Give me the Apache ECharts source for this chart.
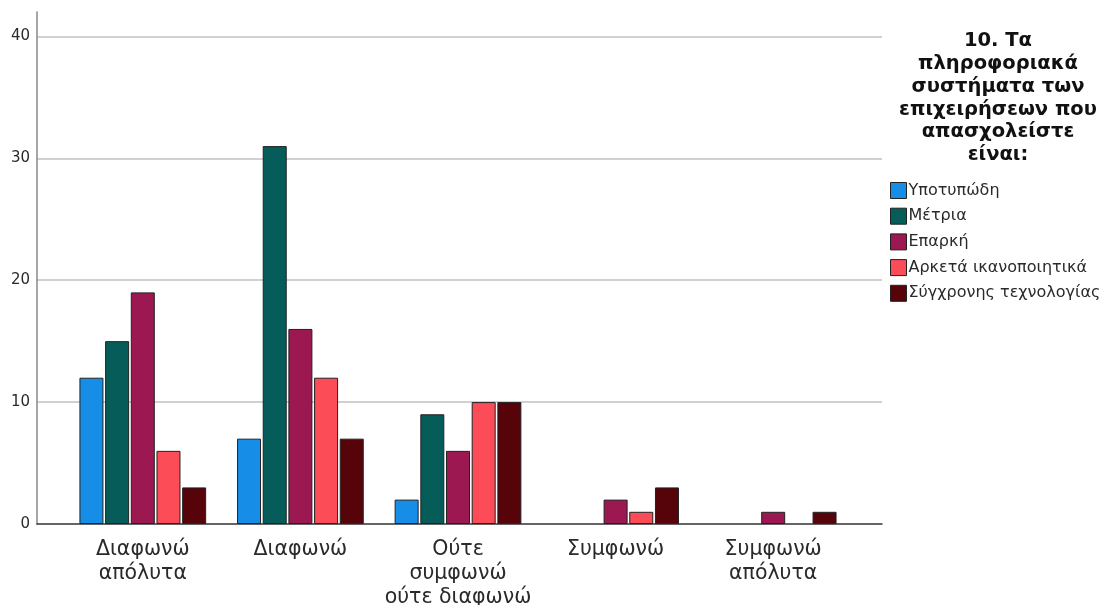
<!DOCTYPE html>
<html>
<head>
<meta charset="utf-8">
<script src="https://cdn.jsdelivr.net/npm/echarts@6/dist/echarts.min.js"></script>
<style>
  html, body { margin: 0; padding: 0; background: #fff; }
  #chart { width: 1107px; height: 605px; }
</style>
</head>
<body>
<div id="chart"></div>
<script>
// answer categories on the x axis
const categories = ['Διαφωνώ\nαπόλυτα', 'Διαφωνώ', 'Ούτε\nσυμφωνώ\nούτε διαφωνώ', 'Συμφωνώ', 'Συμφωνώ\nαπόλυτα'];
const seriesNames = ['Υποτυπώδη', 'Μέτρια', 'Επαρκή', 'Αρκετά ικανοποιητικά', 'Σύγχρονης τεχνολογίας'];
// counts per series (null = no bar)
const ypotypodi = [12, 7, 2, null, null];
const metria = [15, 31, 9, null, null];
const eparki = [19, 16, 6, 2, 1];
const arketa = [6, 12, 10, 1, null];
const sygxronis = [3, 7, 10, 3, 1];
const yTicks = [0, 10, 20, 30, 40];
const legendTitle = '10. Τα\nπληροφοριακά\nσυστήματα των\nεπιχειρήσεων που\nαπασχολείστε\nείναι:';

const colors = ['#168de6', '#065c59', '#9c1851', '#fc4c58', '#560309'];
const values = [ypotypodi, metria, eparki, arketa, sygxronis];

const chart = echarts.init(document.getElementById('chart'));
const font = '"DejaVu Sans", sans-serif';

const option = {
  animation: false,
  textStyle: { fontFamily: font },
  title: {
    text: legendTitle,
    left: 993,
    top: 25,
    textAlign: 'center',
    textStyle: { fontSize: 19.5, fontWeight: 'bold', color: '#111', lineHeight: 22.7, fontFamily: font }
  },
  legend: {
    orient: 'vertical',
    left: 885,
    top: 177,
    itemWidth: 16,
    itemHeight: 16,
    itemGap: 8.7,
    icon: 'rect',
    data: seriesNames,
    itemStyle: { borderColor: '#222', borderWidth: 1 },
    textStyle: { fontSize: 16, color: '#2a2a2a', padding: [0, 0, 0, -3], fontFamily: font }
  },
  grid: [
    // frame grid: axis lines and gridlines
    { left: 37, right: 225, top: 12, bottom: 81, outerBoundsMode: 'none' },
    // bar grid: categories sit inside with padding on both ends
    { left: 64, right: 255, top: 12, bottom: 81, outerBoundsMode: 'none' }
  ],
  xAxis: [
    {
      type: 'value', gridIndex: 0, min: 0, max: 1,
      axisLine: { show: true, lineStyle: { color: '#333', width: 1.5 } },
      axisTick: { show: false }, axisLabel: { show: false }, splitLine: { show: false }
    },
    {
      type: 'category', gridIndex: 1, data: categories,
      axisLine: { show: false }, axisTick: { show: false },
      axisLabel: { fontSize: 20.5, color: '#2a2a2a', lineHeight: 24, margin: 14, interval: 0, fontFamily: font }
    }
  ],
  yAxis: [
    {
      type: 'value', gridIndex: 0, min: 0, max: 42, interval: 10,
      axisLine: { show: true, lineStyle: { color: '#888', width: 1.5 } },
      axisTick: { show: false },
      axisLabel: {
        fontSize: 15, color: '#2a2a2a', margin: 7,
        showMaxLabel: false, fontFamily: font,
        formatter: v => yTicks.includes(v) ? String(v) : ''
      },
      splitLine: { show: true, showMaxLine: false, showMinLine: false, lineStyle: { color: '#d0d0d0', width: 2 } }
    },
    {
      type: 'value', gridIndex: 1, min: 0, max: 42, interval: 10,
      show: false, splitLine: { show: false }
    }
  ],
  series: seriesNames.map((name, i) => ({
    name: name,
    type: 'bar',
    xAxisIndex: 1,
    yAxisIndex: 1,
    data: values[i],
    barWidth: 24,
    barGap: '7%',
    itemStyle: { color: colors[i], borderColor: '#222', borderWidth: 1 }
  }))
};

chart.setOption(option);
</script>
</body>
</html>
